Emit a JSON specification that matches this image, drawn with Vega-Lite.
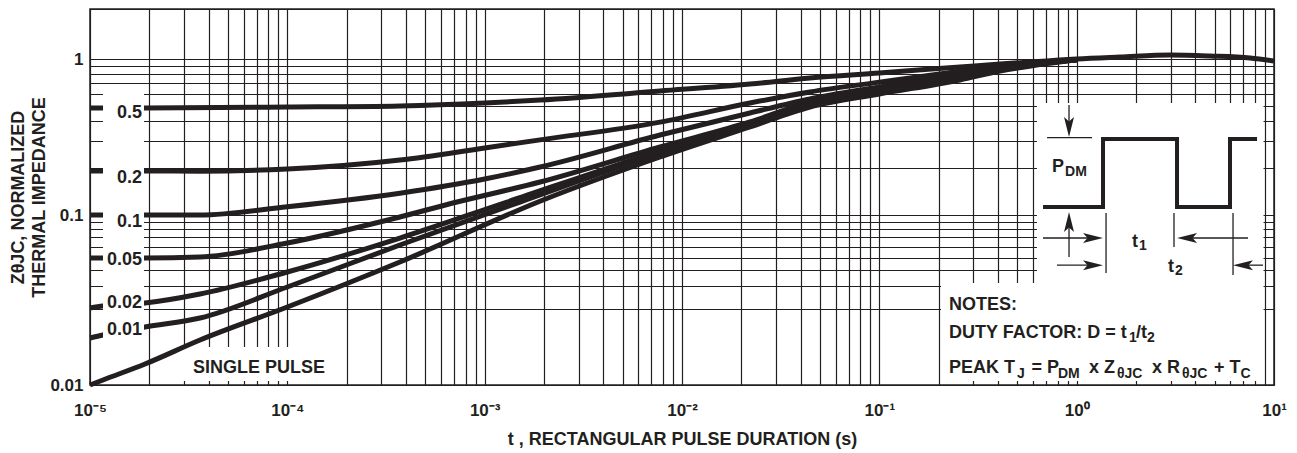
{
  "$schema": "https://vega.github.io/schema/vega-lite/v6.json",
  "width": 1184,
  "height": 376,
  "autosize": "none",
  "padding": {"left": 90, "top": 9, "right": 23, "bottom": 68},
  "background": "white",
  "config": {
    "font": "Liberation Sans",
    "view": {"stroke": "#231f20", "strokeWidth": 1.5},
    "axis": {
      "grid": true, "gridColor": "#231f20", "gridWidth": 1.2, "gridOpacity": 1,
      "domain": false, "ticks": false,
      "labelFont": "Liberation Sans", "labelFontWeight": "bold", "labelColor": "#231f20", "labelFontSize": 17,
      "titleFont": "Liberation Sans", "titleFontWeight": "bold", "titleColor": "#231f20", "titleFontSize": 18,
      "labelOverlap": false, "labelFlush": false
    }
  },
  "datasets": {
    "curves": [
      {"d": "0.5", "t": 1e-5, "z": 0.486}, {"d": "0.5", "t": 1.9e-5, "z": 0.486}, {"d": "0.5", "t": 1e-4, "z": 0.492}, {"d": "0.5", "t": 3.72e-4, "z": 0.5}, {"d": "0.5", "t": 1e-3, "z": 0.522}, {"d": "0.5", "t": 1.91e-3, "z": 0.546}, {"d": "0.5", "t": 7.74e-3, "z": 0.623}, {"d": "0.5", "t": 0.0221, "z": 0.691}, {"d": "0.5", "t": 0.0445, "z": 0.755}, {"d": "0.5", "t": 0.1, "z": 0.813}, {"d": "0.5", "t": 0.256, "z": 0.889}, {"d": "0.5", "t": 0.409, "z": 0.929}, {"d": "0.5", "t": 0.733, "z": 0.975}, {"d": "0.5", "t": 1.0, "z": 1.0}, {"d": "0.5", "t": 1.66, "z": 1.028}, {"d": "0.5", "t": 2.97, "z": 1.057}, {"d": "0.5", "t": 4.74, "z": 1.042}, {"d": "0.5", "t": 7.56, "z": 1.014}, {"d": "0.5", "t": 10, "z": 0.971},
      {"d": "0.2", "t": 1e-5, "z": 0.1915}, {"d": "0.2", "t": 1.9e-5, "z": 0.1915}, {"d": "0.2", "t": 3.61e-5, "z": 0.191}, {"d": "0.2", "t": 1e-4, "z": 0.197}, {"d": "0.2", "t": 3.72e-4, "z": 0.225}, {"d": "0.2", "t": 1e-3, "z": 0.269}, {"d": "0.2", "t": 1.91e-3, "z": 0.303}, {"d": "0.2", "t": 7.74e-3, "z": 0.394}, {"d": "0.2", "t": 0.0221, "z": 0.522}, {"d": "0.2", "t": 0.0445, "z": 0.615}, {"d": "0.2", "t": 0.1, "z": 0.711}, {"d": "0.2", "t": 0.256, "z": 0.836}, {"d": "0.2", "t": 0.409, "z": 0.9}, {"d": "0.2", "t": 0.733, "z": 0.955}, {"d": "0.2", "t": 1.0, "z": 0.99},
      {"d": "0.1", "t": 1e-5, "z": 0.1}, {"d": "0.1", "t": 1.9e-5, "z": 0.1}, {"d": "0.1", "t": 3.61e-5, "z": 0.1}, {"d": "0.1", "t": 1e-4, "z": 0.113}, {"d": "0.1", "t": 3.72e-4, "z": 0.138}, {"d": "0.1", "t": 1e-3, "z": 0.17}, {"d": "0.1", "t": 1.91e-3, "z": 0.2031}, {"d": "0.1", "t": 7.74e-3, "z": 0.3258}, {"d": "0.1", "t": 0.0221, "z": 0.4507}, {"d": "0.1", "t": 0.0445, "z": 0.554}, {"d": "0.1", "t": 0.1, "z": 0.6628}, {"d": "0.1", "t": 0.256, "z": 0.8136}, {"d": "0.1", "t": 0.409, "z": 0.889}, {"d": "0.1", "t": 0.733, "z": 0.955}, {"d": "0.1", "t": 1.0, "z": 0.99},
      {"d": "0.05", "t": 1e-5, "z": 0.05}, {"d": "0.05", "t": 1.9e-5, "z": 0.05}, {"d": "0.05", "t": 3.61e-5, "z": 0.0508}, {"d": "0.05", "t": 1e-4, "z": 0.0637}, {"d": "0.05", "t": 3.72e-4, "z": 0.0969}, {"d": "0.05", "t": 7.24e-4, "z": 0.1211}, {"d": "0.05", "t": 1.91e-3, "z": 0.1627}, {"d": "0.05", "t": 7.74e-3, "z": 0.2729}, {"d": "0.05", "t": 0.0221, "z": 0.3947}, {"d": "0.05", "t": 0.0445, "z": 0.5304}, {"d": "0.05", "t": 0.1, "z": 0.6428}, {"d": "0.05", "t": 0.256, "z": 0.7914}, {"d": "0.05", "t": 0.409, "z": 0.8773}, {"d": "0.05", "t": 0.733, "z": 0.955}, {"d": "0.05", "t": 1.0, "z": 0.99},
      {"d": "0.02", "t": 1e-5, "z": 0.02036}, {"d": "0.02", "t": 1.164e-5, "z": 0.02111}, {"d": "0.02", "t": 1.9e-5, "z": 0.02228}, {"d": "0.02", "t": 3.61e-5, "z": 0.02618}, {"d": "0.02", "t": 1e-4, "z": 0.03889}, {"d": "0.02", "t": 3.72e-4, "z": 0.069}, {"d": "0.02", "t": 1.298e-3, "z": 0.1211}, {"d": "0.02", "t": 7.74e-3, "z": 0.2571}, {"d": "0.02", "t": 0.0221, "z": 0.3831}, {"d": "0.02", "t": 0.0445, "z": 0.5148}, {"d": "0.02", "t": 0.1, "z": 0.6238}, {"d": "0.02", "t": 0.256, "z": 0.7677}, {"d": "0.02", "t": 0.409, "z": 0.8606}, {"d": "0.02", "t": 0.733, "z": 0.955}, {"d": "0.02", "t": 1.0, "z": 0.99},
      {"d": "0.01", "t": 1e-5, "z": 0.01535}, {"d": "0.01", "t": 1.164e-5, "z": 0.01578}, {"d": "0.01", "t": 1.9e-5, "z": 0.01697}, {"d": "0.01", "t": 3.61e-5, "z": 0.01842}, {"d": "0.01", "t": 1e-4, "z": 0.0297}, {"d": "0.01", "t": 3.72e-4, "z": 0.06166}, {"d": "0.01", "t": 1.511e-3, "z": 0.1211}, {"d": "0.01", "t": 7.74e-3, "z": 0.2498}, {"d": "0.01", "t": 0.0221, "z": 0.3776}, {"d": "0.01", "t": 0.0445, "z": 0.5074}, {"d": "0.01", "t": 0.1, "z": 0.6146}, {"d": "0.01", "t": 0.256, "z": 0.7555}, {"d": "0.01", "t": 0.409, "z": 0.8487}, {"d": "0.01", "t": 0.733, "z": 0.955}, {"d": "0.01", "t": 1.0, "z": 0.99},
      {"d": "single", "t": 1e-5, "z": 0.01}, {"d": "single", "t": 1.164e-5, "z": 0.01047}, {"d": "single", "t": 1.9e-5, "z": 0.01211}, {"d": "single", "t": 3.61e-5, "z": 0.01507}, {"d": "single", "t": 1e-4, "z": 0.02072}, {"d": "single", "t": 3.72e-4, "z": 0.04651}, {"d": "single", "t": 1.976e-3, "z": 0.1248}, {"d": "single", "t": 7.74e-3, "z": 0.2354}, {"d": "single", "t": 0.0221, "z": 0.3666}, {"d": "single", "t": 0.0445, "z": 0.4926}, {"d": "single", "t": 0.1, "z": 0.5966}, {"d": "single", "t": 0.256, "z": 0.734}, {"d": "single", "t": 0.409, "z": 0.8366}, {"d": "single", "t": 0.733, "z": 0.94}, {"d": "single", "t": 1.0, "z": 0.99}
    ],
    "boxes": [
      {"t": 2.543e-5, "t2": 1.849e-4, "z": 0.01037, "z2": 0.01414},
      {"t": 0.6295, "t2": 8.85, "z": 0.03188, "z2": 0.5226},
      {"t": 0.2054, "t2": 8.85, "z": 0.01037, "z2": 0.03188}
    ],
    "labelbox": [
      {"t": 1.164e-5, "t2": 1.878e-5, "z": 0.0144, "z2": 0.6433}
    ],
    "curvelabels": [
      {"text": "0.5", "t": 1.834e-5, "z": 0.4191},
      {"text": "0.2", "t": 1.834e-5, "z": 0.1604},
      {"text": "0.1", "t": 1.834e-5, "z": 0.0824},
      {"text": "0.05", "t": 1.834e-5, "z": 0.04397},
      {"text": "0.02", "t": 1.834e-5, "z": 0.02036},
      {"text": "0.01", "t": 1.834e-5, "z": 0.01578}
    ],
    "rules": [
      {"t": 0.7078, "t2": 1.196, "z": 0.313, "z2": 0.313},
      {"t": 0.9146, "t2": 0.9146, "z": 0.5066, "z2": 0.3662},
      {"t": 0.9146, "t2": 0.9146, "z": 0.0508, "z2": 0.0893},
      {"t": 1.409, "t2": 1.409, "z": 0.103, "z2": 0.0382},
      {"t": 3.113, "t2": 3.113, "z": 0.103, "z2": 0.0597},
      {"t": 6.2, "t2": 6.2, "z": 0.103, "z2": 0.03684},
      {"t": 0.6753, "t2": 1.21, "z": 0.06901, "z2": 0.06901},
      {"t": 0.7949, "t2": 1.21, "z": 0.04397, "z2": 0.04397},
      {"t": 3.625, "t2": 7.386, "z": 0.06901, "z2": 0.06901},
      {"t": 6.966, "t2": 8.8, "z": 0.04397, "z2": 0.04397}
    ],
    "wave": [
      {"i": 1, "t": 0.6753, "z": 0.1125}, {"i": 2, "t": 1.36, "z": 0.1125}, {"i": 3, "t": 1.36, "z": 0.3071}, {"i": 4, "t": 3.225, "z": 0.3071},
      {"i": 5, "t": 3.225, "z": 0.1125}, {"i": 6, "t": 5.985, "z": 0.1125}, {"i": 7, "t": 5.985, "z": 0.3071}, {"i": 8, "t": 8.204, "z": 0.3071}
    ],
    "arrows": [
      {"dir": "down", "t": 0.9146, "z": 0.3662},
      {"dir": "up", "t": 0.9146, "z": 0.0893},
      {"dir": "right", "t": 1.21, "z": 0.06901},
      {"dir": "right", "t": 1.21, "z": 0.04397},
      {"dir": "left", "t": 3.625, "z": 0.06901},
      {"dir": "left", "t": 6.966, "z": 0.04397}
    ],
    "maintext": [
      {"text": "SINGLE PULSE", "t": 3.327e-5, "z": 0.01115},
      {"text": "NOTES:", "t": 0.2254, "z": 0.01982},
      {"text": "DUTY FACTOR: D = t", "t": 0.2254, "z": 0.01535},
      {"text": "/t", "t": 1.999, "z": 0.01535},
      {"text": "PEAK T", "t": 0.2254, "z": 0.01115},
      {"text": "= P", "t": 0.59, "z": 0.01115},
      {"text": "x Z", "t": 1.155, "z": 0.01115},
      {"text": "x R", "t": 2.409, "z": 0.01115},
      {"text": "+ T", "t": 4.966, "z": 0.01115},
      {"text": "P", "t": 0.75, "z": 0.1886},
      {"text": "t", "t": 1.908, "z": 0.0597},
      {"text": "t", "t": 2.903, "z": 0.03889}
    ],
    "subtext": [
      {"text": "1", "t": 1.842, "z": 0.0148},
      {"text": "2", "t": 2.273, "z": 0.0148},
      {"text": "J", "t": 0.4984, "z": 0.01066},
      {"text": "DM", "t": 0.8044, "z": 0.01066},
      {"text": "θJC", "t": 1.601, "z": 0.01066},
      {"text": "θJC", "t": 3.418, "z": 0.01066},
      {"text": "C", "t": 6.766, "z": 0.01066},
      {"text": "DM", "t": 0.873, "z": 0.1778},
      {"text": "1", "t": 2.07, "z": 0.0569},
      {"text": "2", "t": 3.151, "z": 0.03684}
    ]
  },
  "encoding": {
    "x": {
      "field": "t", "type": "quantitative",
      "scale": {"type": "log", "domain": [1e-5, 10], "nice": false},
      "title": "t , RECTANGULAR PULSE DURATION (s)",
      "axis": {
        "values": [1e-5, 2e-5, 3e-5, 4e-5, 5e-5, 6e-5, 7e-5, 8e-5, 9e-5, 1e-4, 2e-4, 3e-4, 4e-4, 5e-4, 6e-4, 7e-4, 8e-4, 9e-4, 1e-3, 2e-3, 3e-3, 4e-3, 5e-3, 6e-3, 7e-3, 8e-3, 9e-3, 0.01, 0.02, 0.03, 0.04, 0.05, 0.06, 0.07, 0.08, 0.09, 0.1, 0.2, 0.3, 0.4, 0.5, 0.6, 0.7, 0.8, 0.9, 1, 2, 3, 4, 5, 6, 7, 8, 9, 10],
        "labelExpr": "abs(log(datum.value)/LN10 - round(log(datum.value)/LN10)) < 0.001 ? ['10⁻⁵','10⁻⁴','10⁻³','10⁻²','10⁻¹','10⁰','10¹'][round(log(datum.value)/LN10) + 5] : ''",
        "labelPadding": 17,
        "titlePadding": 12
      }
    },
    "y": {
      "field": "z", "type": "quantitative",
      "scale": {"type": "log", "domain": [0.01, 0.02, 0.05, 0.1, 1, 2], "range": [376, 300, 249, 206, 50, 0], "nice": false},
      "title": ["ZθJC, NORMALIZED", "THERMAL IMPEDANCE"],
      "axis": {
        "values": [0.01, 0.02, 0.03, 0.04, 0.05, 0.06, 0.07, 0.08, 0.09, 0.1, 0.2, 0.3, 0.4, 0.5, 0.6, 0.7, 0.8, 0.9, 1, 2],
        "labelExpr": "datum.value == 1 ? '1' : datum.value == 0.1 ? '0.1' : datum.value == 0.01 ? '0.01' : ''",
        "labelPadding": 7,
        "titlePadding": 1,
        "titleLineHeight": 21
      }
    }
  },
  "layer": [
    {
      "data": {"name": "boxes"},
      "mark": {"type": "rect", "fill": "white", "strokeWidth": 0},
      "encoding": {"x2": {"field": "t2"}, "y2": {"field": "z2"}}
    },
    {
      "data": {"name": "curves"},
      "mark": {"type": "line", "color": "#231f20", "strokeWidth": 5, "interpolate": "monotone", "strokeCap": "butt"},
      "encoding": {"detail": {"field": "d"}}
    },
    {
      "data": {"name": "labelbox"},
      "mark": {"type": "rect", "fill": "white", "strokeWidth": 0},
      "encoding": {"x2": {"field": "t2"}, "y2": {"field": "z2"}}
    },
    {
      "data": {"name": "curvelabels"},
      "mark": {"type": "text", "align": "right", "baseline": "alphabetic", "fontSize": 18, "fontWeight": "bold", "color": "#231f20"},
      "encoding": {"text": {"field": "text"}}
    },
    {
      "data": {"name": "rules"},
      "mark": {"type": "rule", "color": "#231f20", "strokeWidth": 1.3},
      "encoding": {"x2": {"field": "t2"}, "y2": {"field": "z2"}}
    },
    {
      "data": {"name": "wave"},
      "mark": {"type": "line", "color": "#231f20", "strokeWidth": 4, "strokeJoin": "miter", "strokeCap": "butt"},
      "encoding": {"order": {"field": "i"}}
    },
    {
      "data": {"name": "arrows"},
      "mark": {"type": "point", "filled": true, "opacity": 1, "color": "#231f20", "size": 400, "strokeWidth": 0},
      "encoding": {
        "shape": {
          "field": "dir", "type": "nominal", "legend": null,
          "scale": {"domain": ["up", "down", "right", "left"], "range": ["M0,-1L0.5,1L0,0.55L-0.5,1Z", "M0,1L0.5,-1L0,-0.55L-0.5,-1Z", "M1,0L-1,0.5L-0.55,0L-1,-0.5Z", "M-1,0L1,0.5L0.55,0L1,-0.5Z"]}
        }
      }
    },
    {
      "data": {"name": "maintext"},
      "mark": {"type": "text", "align": "left", "baseline": "alphabetic", "fontSize": 18, "fontWeight": "bold", "color": "#231f20"},
      "encoding": {"text": {"field": "text"}}
    },
    {
      "data": {"name": "subtext"},
      "mark": {"type": "text", "align": "left", "baseline": "alphabetic", "fontSize": 14, "fontWeight": "bold", "color": "#231f20"},
      "encoding": {"text": {"field": "text"}}
    }
  ]
}
